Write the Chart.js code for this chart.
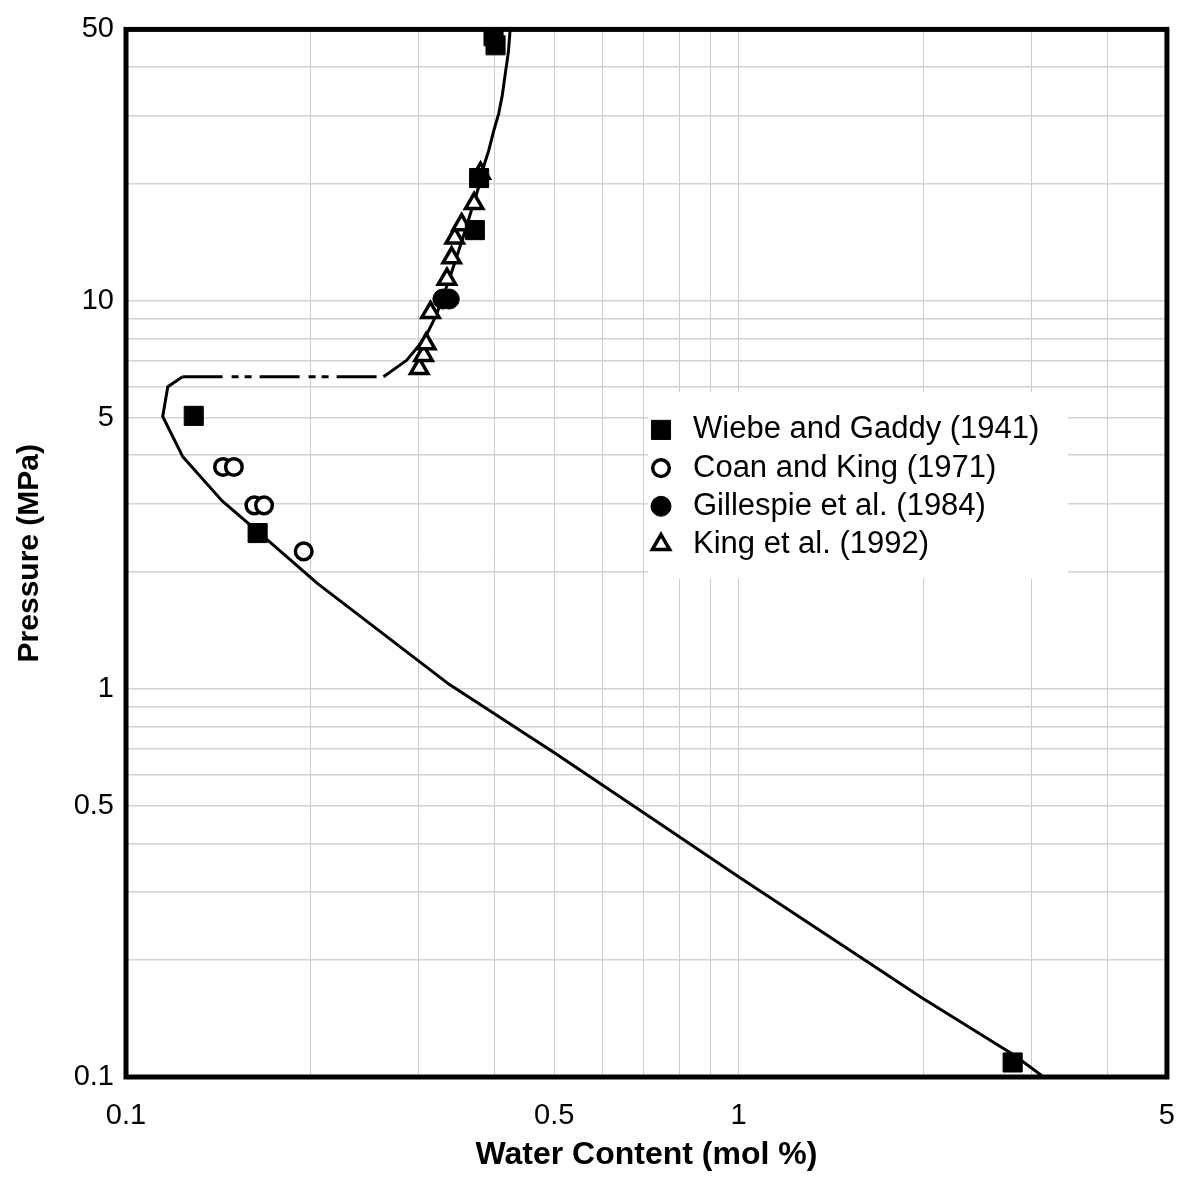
<!DOCTYPE html>
<html>
<head>
<meta charset="utf-8">
<title>Water content vs pressure</title>
<script src="https://cdn.jsdelivr.net/npm/chart.js@4/dist/chart.umd.min.js"></script>
<style>
  html, body { margin: 0; padding: 0; background: #ffffff; }
  canvas { display: block; }
</style>
</head>
<body>
<canvas id="chart" width="1197" height="1180"></canvas>
<script>
// Measured water content (mol %) against pressure (MPa), with the calculated curve.
const wiebeX = [0.129, 0.164, 0.371, 0.377, 0.398, 0.401, 2.80];
const wiebeY = [5.05, 2.52, 15.2, 20.7, 48.0, 45.5, 0.109];

const coanX = [0.144, 0.150, 0.162, 0.168, 0.195];
const coanY = [3.73, 3.73, 2.97, 2.97, 2.26];

const gillespieX = [0.329, 0.337];
const gillespieY = [10.1, 10.1];

const kingX = [0.301, 0.306, 0.309, 0.314, 0.334, 0.340, 0.344, 0.353, 0.370, 0.379];
const kingY = [6.69, 7.23, 7.75, 9.33, 11.36, 12.9, 14.5, 15.7, 17.8, 21.3];

// Calculated curve, from low pressure up to 50 MPa
const modelX = [3.145, 2.818, 1.984, 1.583, 1.008, 0.7096, 0.4995, 0.3344, 0.2055, 0.1624,
                0.1435, 0.1237, 0.1148, 0.117, 0.1237, 0.2632, 0.287, 0.3071, 0.3207, 0.337,
                0.354, 0.3766, 0.3833, 0.3909, 0.3978, 0.4057, 0.4113, 0.4159, 0.419, 0.421, 0.4236];
const modelY = [0.1, 0.1138, 0.1605, 0.2031, 0.325, 0.4726, 0.686, 1.036, 1.867, 2.58,
                3.05, 3.97, 5.03, 6.0, 6.37, 6.37, 7.02, 7.98, 9.15, 11.36,
                14.38, 19.69, 22.1, 24.4, 27.2, 30.3, 33.8, 38.4, 41.6, 44.0, 50];
// the flat stretch between these two curve points is drawn dash-dot-dot
const dashedFrom = 14;

const seriesNames = ['Wiebe and Gaddy (1941)', 'Coan and King (1971)',
                     'Gillespie et al. (1984)', 'King et al. (1992)'];
const xTickLabels = [0.1, 0.5, 1, 5];
const yTickLabels = [0.1, 0.5, 1, 5, 10, 50];
const xRange = [0.1, 5];
const yRange = [0.1, 50];

const FONT = '"Liberation Sans", Arial, Helvetica, sans-serif';

function pairs(xs, ys) {
  return xs.map((x, i) => ({ x: x, y: ys[i] }));
}

// 1..9 multiples of each decade inside [min, max], for the grid
function decadeGrid(min, max) {
  const out = [];
  for (let e = Math.floor(Math.log10(min)); e <= Math.ceil(Math.log10(max)); e++) {
    for (let m = 1; m <= 9; m++) {
      const v = Number((m * Math.pow(10, e)).toPrecision(6));
      if (v >= min * (1 - 1e-9) && v <= max * (1 + 1e-9)) out.push(v);
    }
  }
  return out;
}

function labelFor(list) {
  return (v) => list.some(t => Math.abs(t - v) < 1e-9 * Math.max(1, t)) ? String(v) : '';
}

// Thick black box around the plotting area
const plotFrame = {
  id: 'plotFrame',
  afterDraw(chart, args, opts) {
    const { ctx, chartArea: a } = chart;
    ctx.save();
    ctx.lineWidth = opts.width;
    ctx.strokeStyle = opts.color;
    ctx.strokeRect(a.left, a.top, a.right - a.left, a.bottom - a.top);
    ctx.restore();
  }
};

// Key drawn on a white panel inside the plotting area
const insetKey = {
  id: 'insetKey',
  beforeDatasetsDraw(chart, args, opts) {
    const { ctx, chartArea: a } = chart;
    const x0 = a.left + opts.offsetX;
    const y0 = a.top + opts.offsetY;
    ctx.save();
    ctx.fillStyle = '#ffffff';
    ctx.fillRect(x0, y0, opts.width, opts.height);
    let row = 0;
    chart.data.datasets.forEach((ds) => {
      if (!ds.label) return;
      const y = y0 + opts.firstRow + row * opts.rowGap;
      const style = {
        pointStyle: ds.pointStyle, rotation: 0,
        radius: ds.pointRadius, borderWidth: ds.pointBorderWidth
      };
      ctx.fillStyle = ds.pointBackgroundColor;
      ctx.strokeStyle = ds.pointBorderColor;
      ctx.lineWidth = ds.pointBorderWidth;
      Chart.helpers.drawPoint(ctx, style, x0 + opts.markerX, y);
      ctx.fillStyle = '#000000';
      ctx.font = opts.fontSize + 'px ' + FONT;
      ctx.textAlign = 'left';
      ctx.textBaseline = 'middle';
      ctx.fillText(ds.label, x0 + opts.textX, y);
      row++;
    });
    ctx.restore();
  }
};

new Chart(document.getElementById('chart'), {
  type: 'scatter',
  data: {
    datasets: [
      {
        label: seriesNames[0], data: pairs(wiebeX, wiebeY), order: 0,
        pointStyle: 'rect', pointRadius: 13.5, pointHoverRadius: 13.5,
        pointBackgroundColor: '#000000', pointBorderColor: '#000000', pointBorderWidth: 1
      },
      {
        label: seriesNames[1], data: pairs(coanX, coanY), order: 2,
        pointStyle: 'circle', pointRadius: 8.3, pointHoverRadius: 8.3,
        pointBackgroundColor: '#ffffff', pointBorderColor: '#000000', pointBorderWidth: 3.5
      },
      {
        label: seriesNames[2], data: pairs(gillespieX, gillespieY), order: 1,
        pointStyle: 'circle', pointRadius: 10, pointHoverRadius: 10,
        pointBackgroundColor: '#000000', pointBorderColor: '#000000', pointBorderWidth: 1
      },
      {
        label: seriesNames[3], data: pairs(kingX, kingY), order: 3,
        pointStyle: 'triangle', pointRadius: 10, pointHoverRadius: 10,
        pointBackgroundColor: '#ffffff', pointBorderColor: '#000000', pointBorderWidth: 3.5
      },
      {
        data: pairs(modelX, modelY), order: 10,
        showLine: true, borderColor: '#000000', borderWidth: 3,
        borderJoinStyle: 'round', borderCapStyle: 'butt', tension: 0,
        pointRadius: 0, pointHoverRadius: 0,
        segment: {
          borderDash: (c) => c.p0DataIndex === dashedFrom ? [40, 9, 7, 6, 7, 8] : undefined
        }
      }
    ]
  },
  options: {
    responsive: false,
    animation: false,
    devicePixelRatio: 1,
    events: [],
    layout: { padding: { top: 22, right: 16, left: 0, bottom: 0 } },
    scales: {
      x: {
        type: 'logarithmic', position: 'bottom', min: xRange[0], max: xRange[1],
        afterBuildTicks: (s) => { s.ticks = decadeGrid(xRange[0], xRange[1]).map(v => ({ value: v })); },
        afterFit: (s) => { s.height = 103; },
        border: { display: false },
        grid: { color: '#cccccc', lineWidth: 1, drawTicks: false },
        ticks: {
          autoSkip: false, maxRotation: 0, minRotation: 0, padding: 22,
          color: '#000000', font: { family: FONT, size: 29 },
          callback: labelFor(xTickLabels)
        },
        title: {
          display: true, text: 'Water Content (mol %)', color: '#000000',
          font: { family: FONT, size: 32, weight: 'bold' }, padding: { top: 0, bottom: 6 }
        }
      },
      y: {
        type: 'logarithmic', position: 'left', min: yRange[0], max: yRange[1],
        afterBuildTicks: (s) => { s.ticks = decadeGrid(yRange[0], yRange[1]).map(v => ({ value: v })); },
        afterFit: (s) => { s.width = 126; },
        border: { display: false },
        grid: { color: '#d2d2d2', lineWidth: 1.5, drawTicks: false },
        ticks: {
          autoSkip: false, padding: 12,
          color: '#000000', font: { family: FONT, size: 29 },
          callback: labelFor(yTickLabels)
        },
        title: {
          display: true, text: 'Pressure (MPa)', color: '#000000',
          font: { family: FONT, size: 30, weight: 'bold' }, padding: { top: 12, bottom: 0 }
        }
      }
    },
    plugins: {
      legend: { display: false },
      tooltip: { enabled: false },
      plotFrame: { width: 5, color: '#000000' },
      insetKey: {
        offsetX: 522, offsetY: 363, width: 420, height: 186,
        firstRow: 37.5, rowGap: 38.2, markerX: 13, textX: 45, fontSize: 31
      }
    }
  },
  plugins: [plotFrame, insetKey]
});
</script>
</body>
</html>
